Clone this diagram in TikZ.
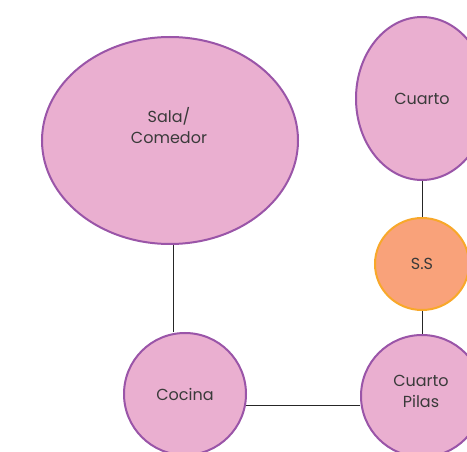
\documentclass[tikz,border=0pt]{standalone}
\usepackage{fontspec}
\setmainfont{Poppins}
\usetikzlibrary{shapes.geometric}
\definecolor{pinkfill}{HTML}{EAAFD0}
\definecolor{purpline}{HTML}{9A55A8}
\definecolor{orfill}{HTML}{F9A27A}
\definecolor{orline}{HTML}{F8A82A}
\definecolor{txt}{HTML}{3A3A3A}
\begin{document}
\begin{tikzpicture}[x=1pt,y=-1pt,
  room/.style={ellipse,draw=purpline,fill=pinkfill,line width=2pt,inner sep=0pt,
    text=txt,font=\fontsize{16}{21}\selectfont,align=center},
  ssroom/.style={room,draw=orline,fill=orfill},
  roomtext/.style={text=txt,font=\fontsize{16}{21}\selectfont,align=center,inner sep=0pt},
  link/.style={draw=black!85,line width=0.8pt}]
\useasboundingbox (0,0) rectangle (467,452);
\begin{scope}
\clip (0,0) rectangle (467,452);
\node[room,minimum width=256pt,minimum height=207pt] (sala) at (170,140.5) {};
\node[roomtext] (salatxt) at (169,126) {Sala/\\Comedor};
\node[room,minimum width=132pt,minimum height=163pt] (cuarto) at (422,98.5) {Cuarto};
\node[ssroom,minimum width=94pt,minimum height=92pt] (ss) at (422,264) {S.S};
\node[room,minimum width=122pt,minimum height=122pt] (cocina) at (185,394) {Cocina};
\node[room,minimum width=122pt,minimum height=122pt] (pilas) at (422,396) {};
\node[roomtext] (pilastxt) at (421,391) {Cuarto\\Pilas};
\end{scope}
\path[link] (sala.-88) -- (sala.-88 |- cocina.north);
\path[link] (cuarto.south) -- (ss.north);
\path[link] (ss.south) -- (pilas.north);
\path[link] (cocina.-11.3) -- (cocina.-11.3 -| pilas.west);
\end{tikzpicture}
\end{document}
